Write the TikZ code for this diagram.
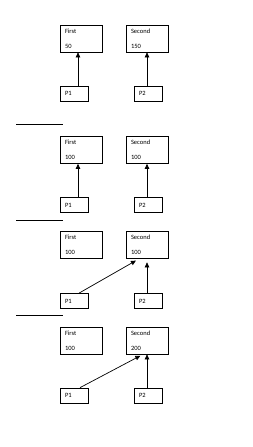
\documentclass[tikz,border=0pt]{standalone}
\usepackage{fontspec}
\setmainfont{Carlito}
\usepackage{tikz}
\usetikzlibrary{arrows.meta}

\tikzset{
  varbox/.style={draw,line width=0.7pt,minimum height=27pt,text width=32pt,inner xsep=5pt,
    align=left,font=\fontsize{6.5}{7}\selectfont},
  ptrbox/.style={draw,line width=0.7pt,text width=18pt,minimum height=15pt,inner xsep=5pt,
    inner ysep=0pt,align=left,font=\fontsize{6.5}{7}\selectfont},
  ptrarrow/.style={-{Triangle[length=5pt,width=4.5pt]},line width=0.7pt},
  sepline/.style={dash pattern=on 0.7pt off 0.25pt,line width=0.6pt}
}

\begin{document}
\begin{tikzpicture}[x=1pt,y=-1pt]
      \useasboundingbox (0,0) rectangle (253,447);
      % step 1
      \node[varbox] (first1) at (81,38.5) {First\\[8pt]50};
      \node[varbox] (second1) at (147,38.5) {Second\\[8pt]150};
      \node[ptrbox] (pa1) at (74,93.5) {P1};
      \node[ptrbox] (pb1) at (148,93.5) {P2};
      \draw[ptrarrow] ([xshift=4pt]pa1.north) -- ([xshift=-3pt]first1.south);
      \draw[ptrarrow] ([xshift=-1pt]pb1.north) -- (second1.south);
      \coordinate (sa) at (16,124);
      \coordinate (sb) at (62,124);
      \draw[sepline] (sa) -- (sb);
      % step 2
      \node[varbox] (first2) at (81,150) {First\\[8pt]100};
      \node[varbox] (second2) at (147,150) {Second\\[8pt]100};
      \node[ptrbox] (pa2) at (74,205) {P1};
      \node[ptrbox] (pb2) at (148,205) {P2};
      \draw[ptrarrow] ([xshift=4pt]pa2.north) -- ([xshift=-3pt]first2.south);
      \draw[ptrarrow] ([xshift=-1pt]pb2.north) -- (second2.south);
      \coordinate (sc) at (16,220);
      \coordinate (sd) at (62,220);
      \draw[sepline] (sc) -- (sd);
      % step 3
      \node[varbox] (first3) at (81,245) {First\\[8pt]100};
      \node[varbox] (second3) at (147,245) {Second\\[8pt]100};
      \node[ptrbox] (pa3) at (74,301) {P1};
      \node[ptrbox] (pb3) at (148,301) {P2};
      \draw[ptrarrow,shorten >=3.5pt] ([xshift=5pt]pa3.north) -- ([xshift=-8pt]second3.south);
      \draw[ptrarrow,shorten >=3.5pt] ([xshift=-1pt]pb3.north) -- (second3.south);
      \coordinate (se) at (16,315);
      \coordinate (sf) at (62,315);
      \draw[sepline] (se) -- (sf);
      % step 4
      \node[varbox] (first4) at (81,340.5) {First\\[8pt]100};
      \node[varbox] (second4) at (147,340.5) {Second\\[8pt]200};
      \node[ptrbox] (pa4) at (74,395.5) {P1};
      \node[ptrbox] (pb4) at (148,395.5) {P2};
      \draw[ptrarrow,shorten >=3pt] ([xshift=6pt]pa4.north) -- ([xshift=-4pt]second4.south);
      \draw[ptrarrow] ([xshift=-1pt]pb4.north) -- (second4.south);
    \end{tikzpicture}
\end{document}
